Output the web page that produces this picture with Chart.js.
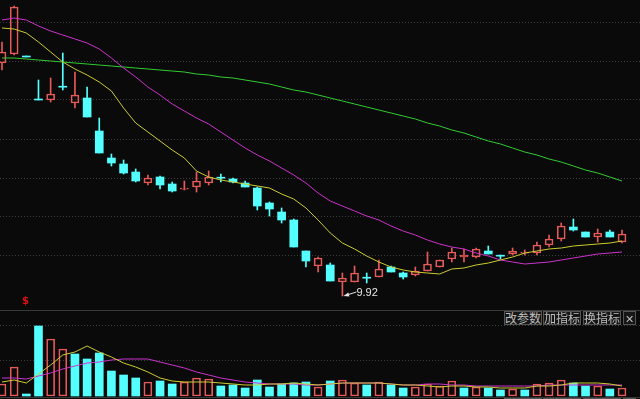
<!DOCTYPE html>
<html>
<head>
<meta charset="utf-8">
<script src="https://cdn.jsdelivr.net/npm/chart.js@4.4.1/dist/chart.umd.min.js"></script>
<style>
  html, body { margin: 0; padding: 0; background: #0a0a0a; width: 640px; height: 399px; overflow: hidden; }
  body { position: relative; }
  canvas { position: absolute; left: 0; }
  #main { top: 0; }
  #vol { top: 311px; }
  .sep { position: absolute; left: 0; width: 640px; height: 1px; background: #383838; }
  .btn { position: absolute; height: 12px; border: 1px solid #555; background: #161616; color: #bdbdbd;
         font: 12px "Noto Sans CJK SC"; line-height: 12px; text-align: center; overflow: hidden; }
  .mark { position: absolute; left: 22px; top: 295px; color: #e01010; font: bold 10px "DejaVu Sans"; }
</style>
</head>
<body>
<canvas id="main" width="640" height="310"></canvas>
<div class="sep" style="top:310px"></div>
<span class="mark">$</span>
<canvas id="vol" width="640" height="88"></canvas>
<div class="btn" style="left:504px;top:311px;width:36px">改参数</div>
<div class="btn" style="left:543px;top:311px;width:36px">加指标</div>
<div class="btn" style="left:583px;top:311px;width:36px">换指标</div>
<div class="btn" style="left:623px;top:311px;width:11px;font-size:11px">✕</div>
<div class="sep" style="top:397px"></div>
<div class="btn" style="left:504px;top:398px;width:36px"></div>
<div class="btn" style="left:543px;top:398px;width:36px"></div>
<div class="btn" style="left:583px;top:398px;width:36px"></div>
<div class="btn" style="left:623px;top:398px;width:11px"></div>
<script>
// daily candles, oldest first
const opens  = [12.25, 12.34, 12.315, 11.885, 11.88, 12.012, 11.85, 11.90, 11.57, 11.30,
                11.24, 11.16, 11.05, 11.11, 11.04, 10.988, 11.01, 11.05, 11.102, 11.09,
                11.05, 11.00, 10.85, 10.76, 10.68, 10.37, 10.22, 10.23, 10.06, 10.06,
                10.102, 10.11, 10.21, 10.15, 10.13, 10.17, 10.21, 10.29, 10.31, 10.31,
                10.37, 10.322, 10.34, 10.348, 10.35, 10.43, 10.49, 10.61, 10.56, 10.51,
                10.56, 10.46];
const highs  = [12.46, 12.82, 12.32, 12.08, 12.10, 12.35, 12.16, 12.01, 11.70, 11.34,
                11.28, 11.19, 11.13, 11.12, 11.06, 11.07, 11.16, 11.17, 11.14, 11.10,
                11.07, 11.01, 10.86, 10.80, 10.69, 10.37, 10.31, 10.25, 10.15, 10.22,
                10.15, 10.28, 10.22, 10.16, 10.21, 10.36, 10.28, 10.40, 10.39, 10.40,
                10.42, 10.33, 10.40, 10.38, 10.46, 10.53, 10.65, 10.69, 10.56, 10.59,
                10.58, 10.58];
const lows   = [12.18, 12.33, 12.31, 11.88, 11.86, 11.98, 11.80, 11.71, 11.35, 11.22,
                11.14, 11.06, 11.03, 10.99, 10.96, 10.98, 10.96, 11.03, 11.06, 11.05,
                11.01, 10.78, 10.72, 10.65, 10.41, 10.21, 10.16, 10.07, 9.92, 10.06,
                10.05, 10.11, 10.16, 10.09, 10.12, 10.17, 10.21, 10.26, 10.26, 10.30,
                10.34, 10.29, 10.33, 10.33, 10.33, 10.41, 10.47, 10.57, 10.51, 10.46,
                10.51, 10.45];
const closes = [12.36, 12.81, 12.31, 11.88, 11.94, 12.008, 11.93, 11.71, 11.35, 11.25,
                11.15, 11.07, 11.10, 11.03, 10.97, 10.992, 11.07, 11.11, 11.098, 11.06,
                11.01, 10.82, 10.79, 10.68, 10.41, 10.27, 10.30, 10.07, 10.10, 10.15,
                10.098, 10.19, 10.16, 10.11, 10.17, 10.24, 10.28, 10.36, 10.33, 10.39,
                10.34, 10.318, 10.37, 10.352, 10.43, 10.49, 10.62, 10.58, 10.51, 10.55,
                10.51, 10.54];

// moving averages
const maShort = [12.60, 12.59, 12.55, 12.46, 12.36, 12.26, 12.19, 12.13, 12.06, 11.97,
                 11.80, 11.65, 11.56, 11.47, 11.38, 11.30, 11.17, 11.11, 11.08, 11.06,
                 11.04, 11.02, 11.00, 10.94, 10.89, 10.80, 10.68, 10.55, 10.45, 10.39,
                 10.32, 10.26, 10.21, 10.18, 10.16, 10.15, 10.14, 10.19, 10.20, 10.23,
                 10.25, 10.28, 10.31, 10.35, 10.37, 10.39, 10.40, 10.42, 10.43, 10.44,
                 10.45, 10.47];
const maMid   = [12.68, 12.70, 12.68, 12.62, 12.57, 12.53, 12.49, 12.45, 12.39, 12.30,
                 12.20, 12.11, 12.01, 11.93, 11.84, 11.77, 11.70, 11.64, 11.56, 11.48,
                 11.40, 11.33, 11.27, 11.20, 11.13, 11.05, 10.95, 10.87, 10.82, 10.77,
                 10.72, 10.68, 10.62, 10.57, 10.53, 10.48, 10.44, 10.41, 10.39, 10.35,
                 10.32, 10.28, 10.26, 10.24, 10.25, 10.26, 10.28, 10.30, 10.32, 10.34,
                 10.35, 10.36];
const maLong  = [12.30, 12.30, 12.29, 12.28, 12.27, 12.26, 12.25, 12.24, 12.23, 12.22,
                 12.21, 12.20, 12.19, 12.18, 12.17, 12.16, 12.14, 12.13, 12.11, 12.10,
                 12.08, 12.06, 12.04, 12.01, 11.98, 11.96, 11.93, 11.90, 11.87, 11.84,
                 11.81, 11.78, 11.75, 11.72, 11.69, 11.65, 11.62, 11.58, 11.55, 11.51,
                 11.47, 11.44, 11.40, 11.36, 11.33, 11.29, 11.26, 11.22, 11.18, 11.15,
                 11.11, 11.07];

// volume and its averages
const volumes    = [6000, 14500, 1000, 35000, 28500, 23500, 21000, 18500, 21500, 12500,
                    10500, 9000, 7000, 7500, 6000, 7000, 9000, 8500, 5000, 5500,
                    4000, 8000, 4500, 6000, 6500, 7000, 4500, 7500, 8000, 6500,
                    5500, 7000, 5500, 4000, 4500, 6000, 5000, 7500, 4000, 4500,
                    4000, 3000, 3500, 3000, 6000, 6500, 8000, 6500, 5000, 5000,
                    3500, 4000];
const volMaShort = [7000, 8000, 6500, 11000, 15500, 20500, 22000, 25000, 22000, 19500,
                    16500, 14500, 12000, 9000, 7500, 7000, 7000, 7000, 6500, 6000,
                    5500, 5500, 6000, 6000, 6500, 6000, 5500, 6000, 6500, 6500,
                    6500, 6500, 6000, 5500, 5500, 5000, 4500, 5000, 5000, 4500,
                    4500, 4000, 4000, 4000, 5000, 5000, 5500, 6500, 6500, 6500,
                    6000, 5000];
const volMaLong  = [9000, 9000, 8500, 10000, 11500, 13500, 15000, 16500, 17000, 18000,
                    18500, 18500, 18500, 17000, 15500, 14000, 12000, 10500, 9000, 8000,
                    7000, 6500, 6000, 6000, 6000, 5500, 5500, 6000, 6500, 6500,
                    6500, 6500, 6000, 5500, 5500, 6000, 6000, 5500, 5500, 5000,
                    5000, 5000, 5000, 5000, 5000, 5500, 5500, 5500, 5500, 5500,
                    5500, 5500];

// horizontal grid levels
const priceGrid = [10.32, 10.71, 11.10, 11.49, 11.88, 12.27, 12.66];
const volGrid = [17500, 35000];

const UP = '#e65a5a', DOWN = '#54ffff', YEL = '#cccc33', MAG = '#cc33cc', GRN = '#33cc33';

const idx = opens.map((_, i) => i);
const isUp = idx.map(i => closes[i] > opens[i]);
const volUp = idx.map(i => i === 0 || closes[i] >= closes[i - 1]);
const pts = arr => arr.map((v, i) => ({ x: i, y: v }));

const xAxis = { type: 'linear', min: -0.165, max: 52.48, offset: false, display: false };
function yAxis(min, max, levels) {
  return {
    type: 'linear', min, max,
    ticks: { display: false },
    grid: { color: '#3c3c3c', drawTicks: false, lineWidth: 1 },
    border: { display: false, dash: [1, 2] },
    afterBuildTicks: s => { s.ticks = levels.map(v => ({ value: v })); },
    afterFit: s => { s.width = 0; }
  };
}
const line = (data, color) => ({
  type: 'line', data: pts(data), borderColor: color, borderWidth: 1,
  pointRadius: 0, tension: 0, fill: false
});
const baseOpts = {
  responsive: false, animation: false, events: [],
  layout: { padding: 0, autoPadding: false },
  plugins: { legend: { display: false }, tooltip: { enabled: false } }
};

// arrow + text at the lowest low
const lowLabel = {
  id: 'lowLabel',
  afterDatasetsDraw(chart) {
    const { ctx, scales: { x, y } } = chart;
    const i = lows.indexOf(Math.min(...lows));
    const px = x.getPixelForValue(i), py = y.getPixelForValue(lows[i]);
    ctx.save();
    ctx.strokeStyle = ctx.fillStyle = '#e6e6e6';
    ctx.lineWidth = 1;
    ctx.beginPath(); ctx.moveTo(px + 14, py - 4); ctx.lineTo(px + 3, py - 0.5); ctx.stroke();
    ctx.beginPath(); ctx.moveTo(px + 1, py); ctx.lineTo(px + 6, py - 3.5); ctx.lineTo(px + 7, py + 0.5); ctx.closePath(); ctx.fill();
    ctx.font = '11px "Liberation Sans"';
    ctx.textBaseline = 'middle';
    ctx.fillText(lows[i].toFixed(2), px + 14, py - 3);
    ctx.restore();
  }
};

new Chart(document.getElementById('main'), {
  type: 'bar',
  data: {
    datasets: [
      line(maShort, YEL),
      line(maMid, MAG),
      line(maLong, GRN),
      {
        data: idx.map(i => ({ x: i, y: [opens[i], closes[i]] })),
        barThickness: 8, grouped: false, minBarLength: 1, borderSkipped: false,
        backgroundColor: idx.map(i => isUp[i] ? 'rgba(0,0,0,0)' : DOWN),
        borderColor: idx.map(i => isUp[i] ? UP : DOWN),
        borderWidth: idx.map(i => isUp[i] ? 1 : 0)
      },
      {
        data: idx.map(i => ({ x: i, y: [Math.max(opens[i], closes[i]), highs[i]] })),
        barThickness: 1, grouped: false, borderWidth: 0,
        backgroundColor: idx.map(i => isUp[i] ? UP : DOWN)
      },
      {
        data: idx.map(i => ({ x: i, y: [lows[i], Math.min(opens[i], closes[i])] })),
        barThickness: 1, grouped: false, borderWidth: 0,
        backgroundColor: idx.map(i => isUp[i] ? UP : DOWN)
      }
    ]
  },
  options: Object.assign({}, baseOpts, {
    scales: { x: xAxis, y: yAxis(9.78, 12.88, priceGrid) }
  }),
  plugins: [lowLabel]
});

new Chart(document.getElementById('vol'), {
  type: 'bar',
  data: {
    datasets: [
      line(volMaShort, YEL),
      line(volMaLong, MAG),
      {
        data: pts(volumes),
        barThickness: 8, grouped: false, borderSkipped: false,
        backgroundColor: idx.map(i => volUp[i] ? 'rgba(0,0,0,0)' : DOWN),
        borderColor: idx.map(i => volUp[i] ? UP : DOWN),
        borderWidth: idx.map(i => volUp[i] ? 1 : 0)
      }
    ]
  },
  options: Object.assign({}, baseOpts, {
    scales: { x: xAxis, y: yAxis(-1500, 42500, volGrid) }
  })
});
</script>
</body>
</html>
